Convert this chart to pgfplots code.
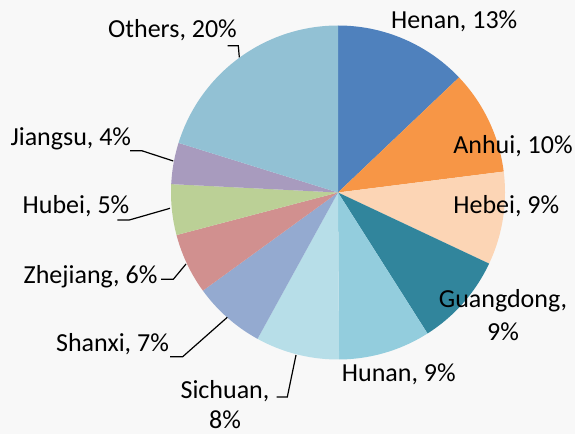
\documentclass[border=0pt]{standalone}
\usepackage{fontspec}
\setmainfont{Carlito}
\usepackage{pgfplots}
\pgfplotsset{compat=1.18}
\definecolor{bg}{HTML}{F8F8F8}
\definecolor{cHenan}{HTML}{4F81BD}
\definecolor{cAnhui}{HTML}{F79646}
\definecolor{cHebei}{HTML}{FCD5B5}
\definecolor{cGuangdong}{HTML}{31859C}
\definecolor{cHunan}{HTML}{93CDDD}
\definecolor{cSichuan}{HTML}{B7DEE8}
\definecolor{cShanxi}{HTML}{94AAD0}
\definecolor{cZhejiang}{HTML}{D1908F}
\definecolor{cHubei}{HTML}{BBD096}
\definecolor{cJiangsu}{HTML}{A89BBE}
\definecolor{cOthers}{HTML}{92C1D4}
\newcommand{\cum}{0}
\newcommand{\slice}[2]{%
  \pgfmathsetmacro\aS{90-3.6*\cum}%
  \pgfmathsetmacro\aE{90-3.6*(\cum+#1)}%
  \edef\tmp{\noexpand\addplot[fill=#2, draw=none, domain=\aE:\aS, samples=90]
    ({338+167*cos(x)},{241.5+167*sin(x)}) -- (axis cs:338,241.5) -- cycle;}%
  \tmp
  \pgfmathsetmacro\newcum{\cum+#1}%
  \xdef\cum{\newcum}%
}
\newcommand{\lab}[3]{\node[anchor=base, inner sep=0pt, font=\fontsize{26}{31}\selectfont] at (axis cs:#1,#2) {#3};}
\begin{document}
\begin{tikzpicture}
\begin{axis}[x=1pt, y=1pt, xmin=0, xmax=575, ymin=0, ymax=434,
  hide axis, clip=false, scale only axis]
\path[fill=bg] (axis cs:0,0) rectangle (axis cs:575,434);
% values in percent, clockwise from 12 o'clock
\slice{12.9}{cHenan}
\slice{10.1}{cAnhui}
\slice{9.0}{cHebei}
\slice{9.0}{cGuangdong}
\slice{8.9}{cHunan}
\slice{8.1}{cSichuan}
\slice{7.0}{cShanxi}
\slice{5.9}{cZhejiang}
\slice{4.9}{cHubei}
\slice{4.0}{cJiangsu}
\slice{20.2}{cOthers}
% leader lines
\addplot[black, line width=1.2pt, no marks] coordinates {(227.7,388.3) (238.3,388.3) (239.3,376.7)};
\addplot[black, line width=1.2pt, no marks] coordinates {(130,283.3) (141.7,283.3) (173.3,273)};
\addplot[black, line width=1.2pt, no marks] coordinates {(117.3,214) (129.3,214) (170,225.7)};
\addplot[black, line width=1.2pt, no marks] coordinates {(161,154.7) (173.3,154.7) (186,170)};
\addplot[black, line width=1.2pt, no marks] coordinates {(170,77.3) (182.7,77.3) (227.3,116.7)};
\addplot[black, line width=1.2pt, no marks] coordinates {(276.7,37) (287.3,37) (296,79)};
% labels
\lab{454.2}{405}{Henan, 13\%}
\lab{513}{280.7}{Anhui, 10\%}
\lab{506.3}{220}{Hebei, 9\%}
\lab{503}{127}{Guangdong,}
\lab{503}{93.3}{9\%}
\lab{398.8}{53}{Hunan, 9\%}
\lab{225}{35.7}{Sichuan,}
\lab{225}{6}{8\%}
\lab{112.5}{82.3}{Shanxi, 7\%}
\lab{90.5}{150}{Zhejiang, 6\%}
\lab{76}{220.7}{Hubei, 5\%}
\lab{70.8}{288.3}{Jiangsu, 4\%}
\lab{172.5}{396.7}{Others, 20\%}
\end{axis}
\end{tikzpicture}
\end{document}
